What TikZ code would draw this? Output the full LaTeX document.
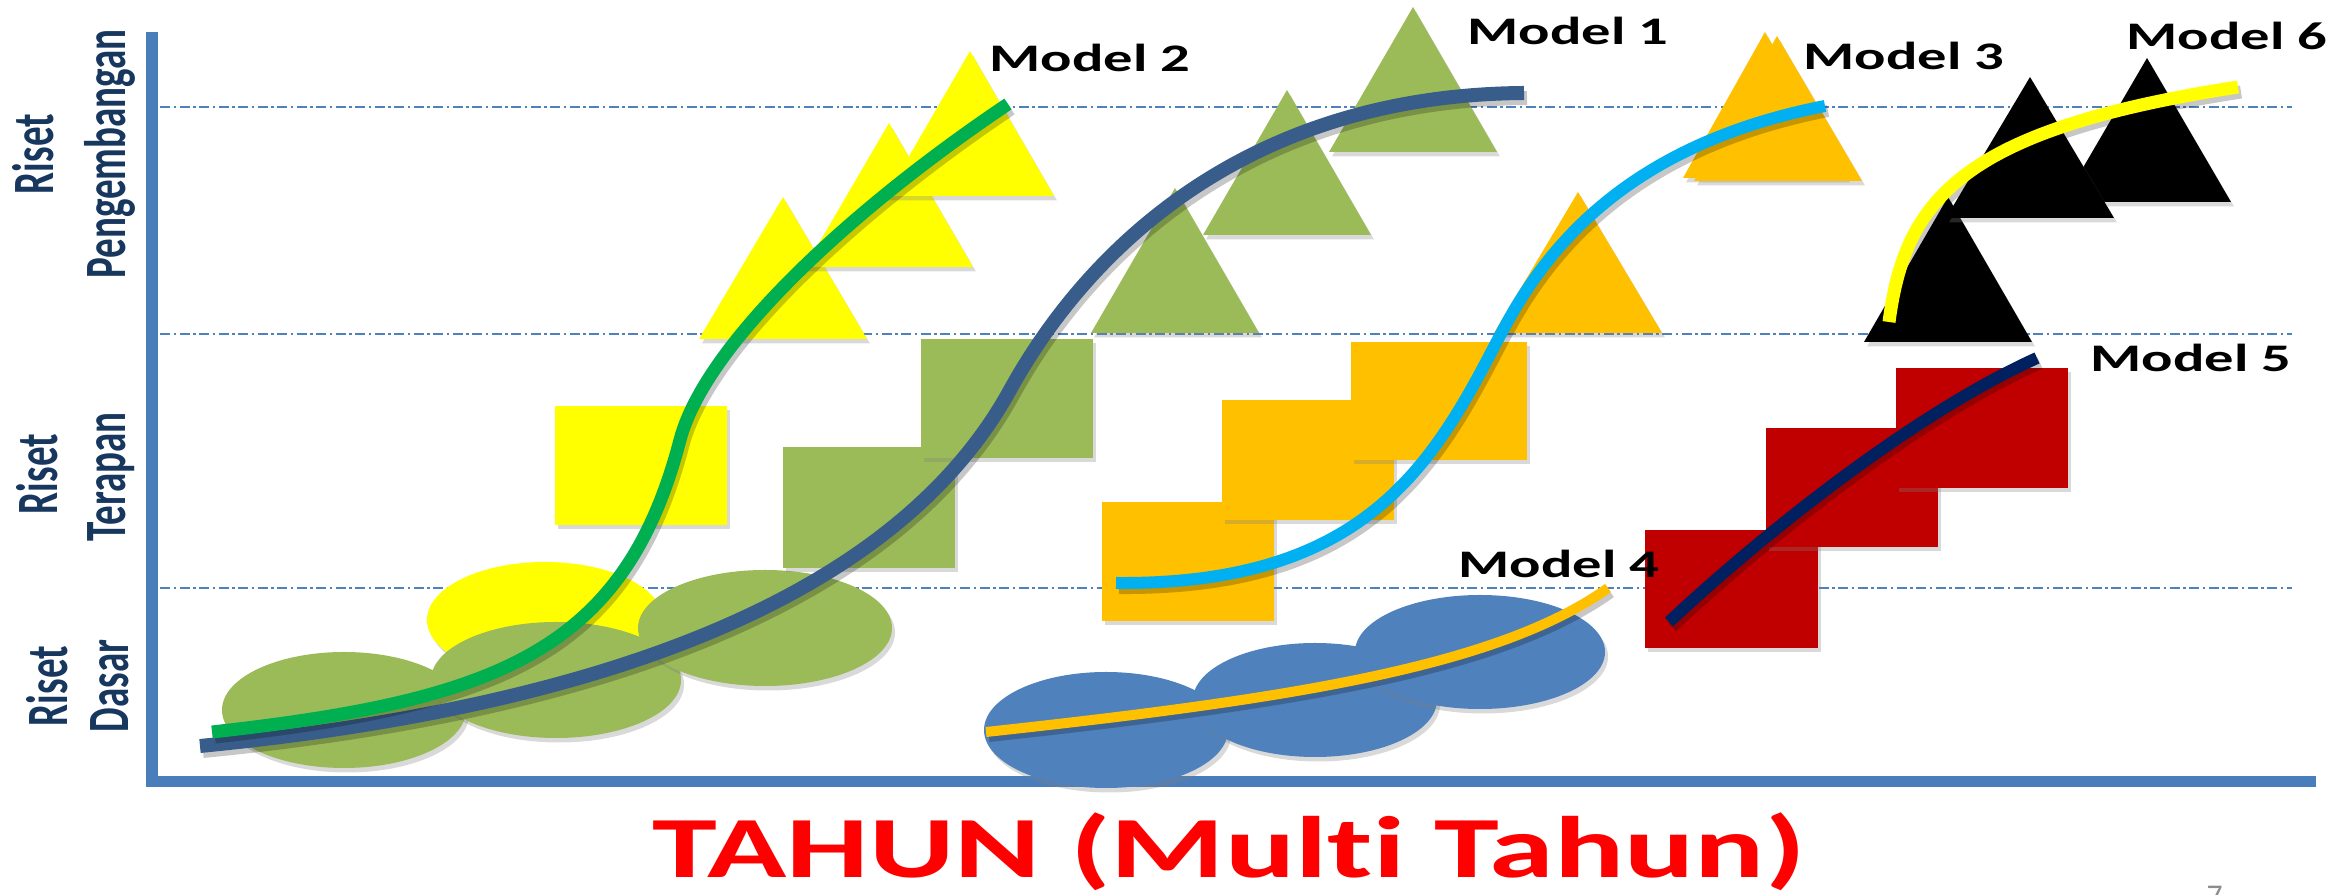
\documentclass[tikz,border=0pt]{standalone}
\usepackage{fontspec}
\setmainfont{Carlito}[Ligatures={NoCommon,NoContextual}]
\usepackage{graphicx}
\usetikzlibrary{shadows}
\definecolor{axisblue}{RGB}{74,126,187}
\definecolor{dashblue}{RGB}{79,129,189}
\definecolor{mgreen}{RGB}{155,187,89}
\definecolor{myellow}{RGB}{255,255,0}
\definecolor{amber}{RGB}{255,192,0}
\definecolor{ellblue}{RGB}{79,129,189}
\definecolor{mred}{RGB}{192,0,0}
\definecolor{curveone}{RGB}{56,93,138}
\definecolor{curvetwo}{RGB}{0,176,80}
\definecolor{curvethree}{RGB}{0,176,240}
\definecolor{curvefive}{RGB}{0,32,96}
\definecolor{labnavy}{RGB}{23,55,94}
\definecolor{titlered}{RGB}{255,0,0}
\tikzset{
  shd/.style={drop shadow={shadow xshift=0.03cm,shadow yshift=-0.045cm,opacity=0.3}},
  curveline/.style={line cap=butt, line join=round},
  gridline/.style={dashblue, line width=0.02cm, dash pattern=on 0.1cm off 0.035cm on 0.025cm off 0.035cm},
  axisline/.style={axisblue, line width=0.11cm},
  modellab/.style={inner sep=0, anchor=base west, font=\fontsize{11.1pt}{13pt}\selectfont\bfseries},
  levellab/.style={inner sep=0, rotate=90, text=labnavy, font=\fontsize{11.1pt}{13pt}\selectfont\bfseries},
  titlelab/.style={inner sep=0, anchor=base west, text=titlered, font=\fontsize{24.8pt}{28pt}\selectfont\bfseries},
}
\newcommand\mtri[4]{\fill[#1,shd] (#2-84,#4) -- (#2+84,#4) -- (#2,#3) -- cycle;}
\newcommand\mcurve[3]{%
  \draw[curveline, #2, black, opacity=0.22, shift={(3,5)}] #3;
  \draw[curveline, #2, #1] #3;}
\begin{document}
\begin{tikzpicture}[x=0.01cm, y=-0.01cm]
\useasboundingbox (0,0) rectangle (2351,895);
% grid lines
\draw[gridline] (160,107) -- (2292,107);
\draw[gridline] (160,334) -- (2292,334);
\draw[gridline] (160,588) -- (2292,588);
% axes
\draw[axisline] (152,32) -- (152,787);
\draw[axisline] (147,782) -- (2316,782);
% Model 2 / Model 1 shapes
\fill[myellow,shd] (545,620) ellipse (118 and 58);
\fill[mgreen,shd] (344,710) ellipse (122 and 58);
\fill[mgreen,shd] (556,680) ellipse (125 and 58);
\fill[mgreen,shd] (765,628) ellipse (127 and 58);
\fill[myellow,shd] (555,406) rectangle (727,525);
\fill[mgreen,shd] (783,447) rectangle (955,568);
\fill[mgreen,shd] (921,339) rectangle (1093,458);
\mtri{myellow}{783}{197}{339}
\mtri{myellow}{889}{123}{267}
\mtri{myellow}{970}{51}{196}
\mtri{mgreen}{1175}{188}{333}
\mtri{mgreen}{1287}{90}{235}
\mtri{mgreen}{1413}{7}{152}
% Model 3 shapes
\fill[amber,shd] (1102,502) rectangle (1274,621);
\fill[amber,shd] (1222,400) rectangle (1394,520);
\fill[amber,shd] (1351,342) rectangle (1527,460);
\mtri{amber}{1578}{192}{333}
\fill[amber,shd] (1683,178) -- (1847,178) -- (1765,32) -- cycle;
\fill[amber,shd] (1694,181) -- (1862,181) -- (1777,36) -- cycle;
% Model 4 shapes
\fill[ellblue,shd] (1106,730) ellipse (122 and 58);
\fill[ellblue,shd] (1315,700) ellipse (122 and 57);
\fill[ellblue,shd] (1480,652) ellipse (125 and 57);
% Model 5 shapes
\fill[mred,shd] (1645,530) rectangle (1818,648);
\fill[mred,shd] (1766,428) rectangle (1938,547);
\fill[mred,shd] (1896,368) rectangle (2068,488);
% Model 6 shapes
\mtri{black}{1948}{197}{342}
\mtri{black}{2147}{58}{202}
\mtri{black}{2030}{77}{218}
% curves
\mcurve{curveone}{line width=0.14cm}{(200,746) .. controls (620,705) and (900,590) .. (1010,390) .. controls (1090,245) and (1250,95) .. (1524,93)}
\mcurve{curvetwo}{line width=0.13cm}{(212,732) .. controls (500,700) and (625,650) .. (680,440) .. controls (705,345) and (850,210) .. (1008,104)}
\mcurve{curvethree}{line width=0.12cm}{(1116,583) .. controls (1360,585) and (1430,470) .. (1495,345) .. controls (1530,278) and (1600,150) .. (1825,106)}
\mcurve{amber}{line width=0.10cm}{(986,732) .. controls (1300,698) and (1500,665) .. (1608,588)}
\mcurve{curvefive}{line width=0.12cm}{(1669,622) .. controls (1740,555) and (1900,420) .. (2037,358)}
\mcurve{myellow}{line width=0.13cm}{(1889,322) .. controls (1905,200) and (1960,130) .. (2238,87)}
% model labels
\node[modellab] (m1) at (1467,45) {\scalebox{1.5}[1]{Model 1}};
\node[modellab] (m2) at (989,72) {\scalebox{1.5}[1]{Model 2}};
\node[modellab] (m3) at (1803,70) {\scalebox{1.5}[1]{Model 3}};
\node[modellab] (m4) at (1458,578) {\scalebox{1.5}[1]{Model 4}};
\node[modellab] (m5) at (2090,372) {\scalebox{1.5}[1]{Model 5}};
\node[modellab] (m6) at (2126,50) {\scalebox{1.5}[1]{Model 6}};
% level labels
\node[levellab] (r1) at (33,154) {\scalebox{1}[1.5]{Riset}};
\node[levellab] (p1) at (110,154) {\scalebox{1}[1.5]{Pengembangan}};
\node[levellab] (r2) at (37,474) {\scalebox{1}[1.5]{Riset}};
\node[levellab] (p2) at (111,477) {\scalebox{1}[1.5]{Terapan}};
\node[levellab] (r3) at (47,686) {\scalebox{1}[1.5]{Riset}};
\node[levellab] (p3) at (110,686) {\scalebox{1}[1.5]{Dasar}};
% title
\node[titlelab] (title) at (652,878) {\scalebox{1.5}[1]{TAHUN (Mult\kern0pt i Tahun)}};
\node[inner sep=0, anchor=north west, text=black!45, font=\fontsize{9pt}{10pt}\selectfont] (pg) at (2206,885) {7};
\end{tikzpicture}
\end{document}
